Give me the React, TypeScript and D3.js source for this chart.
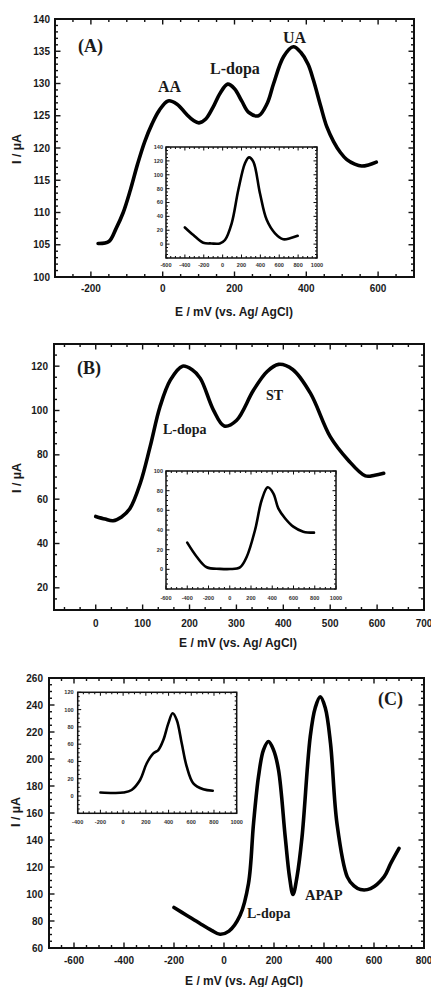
import * as d3 from 'd3';

// ---- panel (A): AA / L-dopa / UA
const aE = [-180, -150, -130, -110, -90, -70, -50, -30, -10, 15, 40, 65, 85, 101, 120, 140, 160, 181, 200, 220, 240, 267, 291, 309, 337, 364, 385, 405, 420, 440, 457, 476, 495, 513, 535, 554, 575, 595];
const aI = [105.2, 105.5, 107.5, 110, 113.5, 117.5, 121, 123.7, 125.8, 127.3, 126.8, 125.3, 124.3, 123.9, 124.5, 126.3, 128.5, 129.9, 129.2, 127.3, 125.5, 125.0, 126.9, 130, 134.2, 135.7, 134.8, 133, 130.5, 126.5, 123.3, 121, 119.3, 118.2, 117.5, 117.2, 117.4, 117.8];
const aInsetE = [-400, -310, -205, -120, -30, 25, 96, 166, 237, 279, 325, 396, 467, 555, 643, 714, 795];
const aInsetI = [24, 13, 2, 1, 1, 6, 30, 78, 116.5, 125, 119, 73, 35, 15.6, 7, 8.4, 12];
const aXTicks = [-200, 0, 200, 400, 600];
const aYTicks = [100, 105, 110, 115, 120, 125, 130, 135, 140];
const aInsetXTicks = [-600, -400, -200, 0, 200, 400, 600, 800, 1000];
const aInsetYTicks = [0, 20, 40, 60, 80, 100, 120, 140];

// ---- panel (B): L-dopa / ST
const bE = [0, 20, 37, 55, 73, 95, 116, 137, 159, 185, 205, 223, 251, 274, 300, 336, 365, 390, 420, 458, 500, 538, 575, 595, 614];
const bI = [52.2, 51, 50.3, 52, 55.8, 67.2, 83.7, 101.7, 113.7, 120, 118.5, 114.5, 100.2, 93, 95.5, 109, 117.5, 120.8, 118.5, 107.7, 88.2, 77.7, 70.5, 70.8, 71.7];
const bInsetE = [-400, -311, -217, -92, 2, 96, 160, 238, 301, 357, 410, 457, 520, 598, 692, 793];
const bInsetI = [27.1, 12.8, 2.1, 0.5, 0.3, 2, 12.8, 40, 70.5, 83.4, 77.3, 62, 52, 43.4, 38.3, 37.3];
const bXTicks = [0, 100, 200, 300, 400, 500, 600, 700];
const bYTicks = [20, 40, 60, 80, 100, 120];
const bInsetXTicks = [-600, -400, -200, 0, 200, 400, 600, 800, 1000];
const bInsetYTicks = [0, 20, 40, 60, 80, 100];

// ---- panel (C): L-dopa / APAP
const cE = [-200, -150, -96, -50, -16, 20, 64, 98, 118, 138, 158, 178, 198, 218, 245, 262, 276, 292, 312, 345, 365, 385, 405, 426, 452, 493, 520, 546, 586, 640, 667, 700];
const cI = [90, 84.3, 78.1, 73.1, 70.2, 72.5, 84, 107.8, 152, 187, 206.8, 213, 206.8, 192, 142, 112.7, 99.6, 112.7, 142, 216.7, 238, 246, 238, 211.7, 152, 112.7, 106, 103.3, 104, 112.7, 122.7, 133.8];
const cInsetE = [-200, -86, 2, 75, 149, 208, 266, 310, 354, 398, 436, 472, 516, 560, 618, 706, 789];
const cInsetI = [4, 3.5, 4, 7, 18.5, 37.9, 49.4, 53.2, 64.8, 84.1, 95.7, 88, 61, 34, 14.7, 7.8, 6.1];
const cXTicks = [-600, -400, -200, 0, 200, 400, 600, 800];
const cYTicks = [60, 80, 100, 120, 140, 160, 180, 200, 220, 240, 260];
const cInsetXTicks = [-400, -200, 0, 200, 400, 600, 800, 1000];
const cInsetYTicks = [0, 20, 40, 60, 80, 100, 120];

const SANS = 'Arial, "Liberation Sans", Helvetica, sans-serif';
const SERIF = '"Times New Roman", "Liberation Serif", Times, serif';
const X_TITLE = 'E / mV (vs. Ag/ AgCl)';
const Y_TITLE = 'I / µA';

type Box = { l: number; r: number; t: number; b: number };
type Lin = d3.ScaleLinear<number, number>;

function Frame(p: {
  x: Lin; y: Lin; box: Box;
  xTicks: number[]; yTicks: number[]; xMinor: number; yMinor: number;
  major: number; minor: number; sw: number;
  font: number; xLabelY: number; yLabelGap: number; color: string;
}) {
  const { x, y, box } = p;
  const [x0, x1] = x.domain();
  const [y0, y1] = y.domain();
  const xm = d3.range(Math.ceil(x0 / p.xMinor) * p.xMinor, x1 + 1e-6, p.xMinor);
  const ym = d3.range(Math.ceil(y0 / p.yMinor) * p.yMinor, y1 + 1e-6, p.yMinor);
  const isMajor = (v: number, arr: number[]) => arr.some((t) => Math.abs(t - v) < 1e-3);
  return (
    <g>
      <rect x={box.l} y={box.t} width={box.r - box.l} height={box.b - box.t} fill="none" stroke="#111" strokeWidth={p.sw} />
      {xm.map((v, i) => {
        const len = isMajor(v, p.xTicks) ? p.major : p.minor;
        const px = x(v);
        return (
          <g key={'x' + i} stroke="#111" strokeWidth={p.sw * 0.7}>
            <line x1={px} x2={px} y1={box.b} y2={box.b - len} />
            <line x1={px} x2={px} y1={box.t} y2={box.t + len} />
          </g>
        );
      })}
      {ym.map((v, i) => {
        const len = isMajor(v, p.yTicks) ? p.major : p.minor;
        const py = y(v);
        return (
          <g key={'y' + i} stroke="#111" strokeWidth={p.sw * 0.7}>
            <line x1={box.l} x2={box.l + len} y1={py} y2={py} />
            <line x1={box.r} x2={box.r - len} y1={py} y2={py} />
          </g>
        );
      })}
      {p.xTicks.map((v) => (
        <text key={'xl' + v} x={x(v)} y={p.xLabelY} textAnchor="middle" fontFamily={SANS} fontWeight="bold" fontSize={p.font} fill={p.color}>
          {v}
        </text>
      ))}
      {p.yTicks.map((v) => (
        <text key={'yl' + v} x={box.l - p.yLabelGap} y={y(v)} dy="0.35em" textAnchor="end" fontFamily={SANS} fontWeight="bold" fontSize={p.font} fill={p.color}>
          {v}
        </text>
      ))}
    </g>
  );
}

function Curve({ x, y, e, i, w }: { x: Lin; y: Lin; e: number[]; i: number[]; w: number }) {
  const pts = e.map((v, k) => [v, i[k]] as [number, number]);
  const line = d3
    .line<[number, number]>()
    .x((d) => x(d[0]))
    .y((d) => y(d[1]))
    .curve(d3.curveCatmullRom.alpha(0.5));
  return <path d={line(pts) ?? ''} fill="none" stroke="#000" strokeWidth={w} strokeLinecap="round" strokeLinejoin="round" />;
}

type Label = { text: string; x: number; y: number; size: number };

function Panel(p: {
  box: Box; xDomain: [number, number]; yDomain: [number, number];
  xTicks: number[]; yTicks: number[]; xMinor: number; yMinor: number;
  e: number[]; i: number[]; xLabelY: number; yLabelGap: number;
  xTitle: { x: number; y: number }; yTitle: { x: number; y: number };
  labels: Label[];
  inset: {
    box: Box; xDomain: [number, number]; yDomain: [number, number];
    xTicks: number[]; yTicks: number[]; e: number[]; i: number[];
    xLabelY: number; yLabelGap: number;
  };
}) {
  const x = d3.scaleLinear().domain(p.xDomain).range([p.box.l, p.box.r]);
  const y = d3.scaleLinear().domain(p.yDomain).range([p.box.b, p.box.t]);
  const ins = p.inset;
  const ix = d3.scaleLinear().domain(ins.xDomain).range([ins.box.l, ins.box.r]);
  const iy = d3.scaleLinear().domain(ins.yDomain).range([ins.box.b, ins.box.t]);
  return (
    <g>
      <Frame x={x} y={y} box={p.box} xTicks={p.xTicks} yTicks={p.yTicks} xMinor={p.xMinor} yMinor={p.yMinor}
        major={5.5} minor={3} sw={2} font={10} xLabelY={p.xLabelY} yLabelGap={p.yLabelGap} color="#1a1a1a" />
      <Curve x={x} y={y} e={p.e} i={p.i} w={3.6} />
      <rect x={ins.box.l} y={ins.box.t} width={ins.box.r - ins.box.l} height={ins.box.b - ins.box.t} fill="#fff" />
      <Frame x={ix} y={iy} box={ins.box} xTicks={ins.xTicks} yTicks={ins.yTicks} xMinor={50} yMinor={5}
        major={3.5} minor={2} sw={1.5} font={5.6} xLabelY={ins.xLabelY} yLabelGap={ins.yLabelGap} color="#333" />
      <Curve x={ix} y={iy} e={ins.e} i={ins.i} w={2.6} />
      {p.labels.map((l) => (
        <text key={l.text} x={l.x} y={l.y} fontFamily={SERIF} fontWeight="bold" fontSize={l.size} fill="#1a1a1a">
          {l.text}
        </text>
      ))}
      <text x={p.xTitle.x} y={p.xTitle.y} textAnchor="middle" fontFamily={SANS} fontWeight="bold" fontSize={12} fill="#1a1a1a">
        {X_TITLE}
      </text>
      <text transform={`translate(${p.yTitle.x},${p.yTitle.y}) rotate(-90)`} dy="0.35em" textAnchor="middle" fontFamily={SANS} fontWeight="bold" fontSize={12.5} fill="#1a1a1a">
        {Y_TITLE}
      </text>
    </g>
  );
}

export default function App() {
  return (
    <svg width={431} height={987} viewBox="0 0 431 987" style={{ position: 'absolute', left: 0, top: 0, background: '#fff' }}>
      <rect width={431} height={987} fill="#fff" />
      <Panel
        box={{ l: 55, r: 414, t: 19, b: 277 }} xDomain={[-300, 700]} yDomain={[100, 140]}
        xTicks={aXTicks} yTicks={aYTicks} xMinor={50} yMinor={1} e={aE} i={aI}
        xLabelY={292} yLabelGap={5}
        xTitle={{ x: 234, y: 316 }} yTitle={{ x: 17, y: 149 }}
        labels={[
          { text: '(A)', x: 78, y: 52, size: 18 },
          { text: 'AA', x: 158, y: 92, size: 16 },
          { text: 'L-dopa', x: 210, y: 74, size: 16 },
          { text: 'UA', x: 283, y: 42.5, size: 16 },
        ]}
        inset={{
          box: { l: 166, r: 317, t: 147, b: 258 }, xDomain: [-600, 1000], yDomain: [-20, 140],
          xTicks: aInsetXTicks, yTicks: aInsetYTicks, e: aInsetE, i: aInsetI, xLabelY: 267, yLabelGap: 3,
        }}
      />
      <Panel
        box={{ l: 54, r: 424, t: 344, b: 610 }} xDomain={[-89, 700]} yDomain={[10, 130]}
        xTicks={bXTicks} yTicks={bYTicks} xMinor={100 / 3} yMinor={5} e={bE} i={bI}
        xLabelY={627} yLabelGap={6}
        xTitle={{ x: 238, y: 647 }} yTitle={{ x: 17, y: 478 }}
        labels={[
          { text: '(B)', x: 77, y: 374, size: 18 },
          { text: 'ST', x: 266, y: 400, size: 14 },
          { text: 'L-dopa', x: 163, y: 433.5, size: 14 },
        ]}
        inset={{
          box: { l: 166, r: 336, t: 471, b: 589 }, xDomain: [-600, 1000], yDomain: [-20, 100],
          xTicks: bInsetXTicks, yTicks: bInsetYTicks, e: bInsetE, i: bInsetI, xLabelY: 599.5, yLabelGap: 3,
        }}
      />
      <Panel
        box={{ l: 49, r: 424, t: 678, b: 948 }} xDomain={[-700, 800]} yDomain={[60, 260]}
        xTicks={cXTicks} yTicks={cYTicks} xMinor={50} yMinor={5} e={cE} i={cI}
        xLabelY={964} yLabelGap={6}
        xTitle={{ x: 244, y: 985 }} yTitle={{ x: 16, y: 812 }}
        labels={[
          { text: '(C)', x: 378, y: 705, size: 18 },
          { text: 'APAP', x: 305, y: 900, size: 14.5 },
          { text: 'L-dopa', x: 247, y: 918, size: 14 },
        ]}
        inset={{
          box: { l: 77.7, r: 236.7, t: 692.3, b: 813.3 }, xDomain: [-400, 1000], yDomain: [-20, 120],
          xTicks: cInsetXTicks, yTicks: cInsetYTicks, e: cInsetE, i: cInsetI, xLabelY: 823.5, yLabelGap: 4,
        }}
      />
    </svg>
  );
}
